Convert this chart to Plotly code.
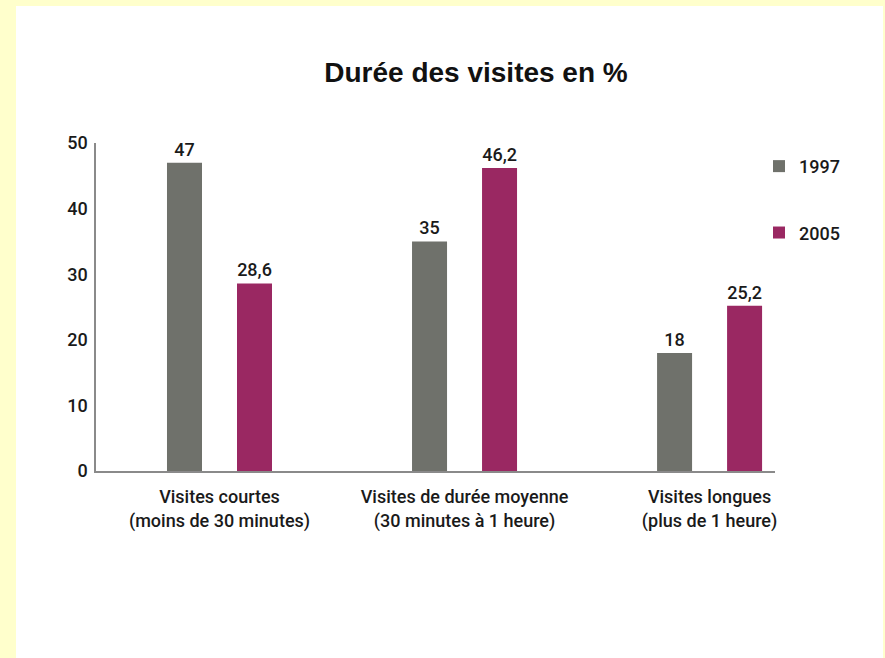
import plotly.graph_objects as go

categories = ["Visites courtes<br>(moins de 30 minutes)",
              "Visites de durée moyenne<br>(30 minutes à 1 heure)",
              "Visites longues<br>(plus de 1 heure)"]
series_names = ["1997", "2005"]
values_1997 = [47, 35, 18]
values_2005 = [28.6, 46.2, 25.2]
labels_1997 = ["47", "35", "18"]
labels_2005 = ["28,6", "46,2", "25,2"]
y_ticks = [0, 10, 20, 30, 40, 50]

NARROW = "Roboto, sans-serif"
TXT = dict(family=NARROW, size=18, color="#1a1a1a", weight=500)

fig = go.Figure()
fig.add_trace(go.Bar(name=series_names[0], x=categories, y=values_1997,
                     marker=dict(color="#6f716b", line=dict(width=0)),
                     text=labels_1997, textposition="outside", textfont=TXT,
                     cliponaxis=False, legendgroup="a"))
fig.add_trace(go.Bar(name=series_names[1], x=categories, y=values_2005,
                     marker=dict(color="#9a2862", line=dict(width=0)),
                     text=labels_2005, textposition="outside", textfont=TXT,
                     cliponaxis=False, legendgroup="b"))

W, H = 885, 658
L, R, T, B = 96, 110, 143, 187
pw, ph = W - L - R, H - T - B
fig.add_shape(type="rect", xref="paper", yref="paper",
              x0=(16 - L) / pw, x1=(883 - L) / pw,
              y0=(H - B - 660) / ph, y1=(H - B - 6) / ph,
              fillcolor="white", line=dict(width=0), layer="below")

fig.update_layout(
    width=W, height=H,
    margin=dict(l=L, r=R, t=T, b=B),
    paper_bgcolor="#ffffcc", plot_bgcolor="rgba(0,0,0,0)",
    barmode="group", bargap=0.4286, bargroupgap=0.5,
    showlegend=True,
    legend=dict(x=-16 / pw + 1.0, xanchor="left", y=0.985, yanchor="top",
                font=dict(family=NARROW, size=18, color="#1a1a1a", weight=500),
                tracegroupgap=40, itemwidth=30, bgcolor="rgba(0,0,0,0)"),
    title=dict(text="Durée des visites en %", x=476 / W, xanchor="center",
               y=1 - 72 / H, yanchor="middle",
               font=dict(family="Liberation Sans, Arial, sans-serif", size=28,
                         color="#111", weight="bold")),
)
fig.update_xaxes(range=[-0.504, 2.267], showline=True, linecolor="#8a8a8a", linewidth=1.5,
                 ticks="", showgrid=False, tickfont=TXT, zeroline=False,
                 ticklabelstandoff=9)
fig.update_yaxes(range=[0, 50], tickvals=y_ticks, showline=True, linecolor="#8a8a8a",
                 linewidth=1.5, ticks="", showgrid=False, zeroline=False,
                 tickfont=TXT, ticklabelstandoff=3)

fig.write_html("out.html", config={"displayModeBar": False},
               post_script="document.body.style.margin='0';")
